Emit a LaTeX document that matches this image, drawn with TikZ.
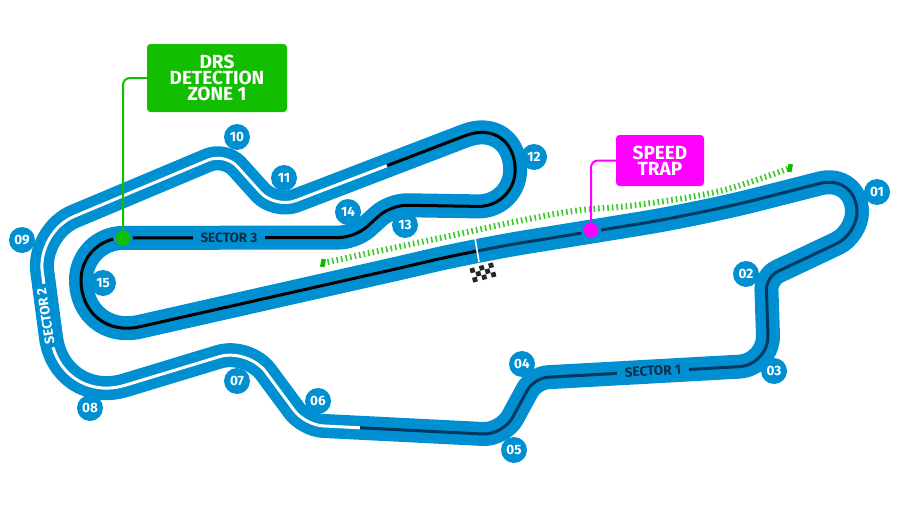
\documentclass[tikz,border=0pt]{standalone}
\usepackage{fontspec}
\setmainfont{Fira Sans}
\definecolor{trackblue}{HTML}{0090D2}
\definecolor{navyline}{HTML}{00385F}
\definecolor{labeldark}{HTML}{0B2E4F}
\definecolor{drsgreen}{HTML}{12BE00}
\definecolor{dotgreen}{HTML}{3CCB28}
\definecolor{endgreen}{HTML}{0FB800}
\definecolor{trapmag}{HTML}{FF00FF}
\newcommand\rc[1]{[rounded corners=#1pt]}
\newcommand\trackpath{
(400,268) \rc{50} -- (477,250) \rc{60} -- (700,214) \rc{38} -- (857,174) \rc{22} -- (857,234) \rc{13} -- (766,277) \rc{30} -- (769,365) \rc{14} -- (534,378) \rc{20} -- (503,435) \rc{18} -- (305,425) \rc{30} -- (248,348) \rc{68} -- (60,405) \rc{40} -- (37,232) \rc{18} -- (225,153) \rc{22} -- (275,208.6) \rc{52} -- (514,117) \rc{38} -- (516,207) \rc{16} -- (391,205) \rc{16} -- (355,237.5) \rc{42} -- (81,238) \rc{60} -- (81,340) -- (400,268)
}
\tikzset{
 turn/.style={circle,fill=trackblue,text=white,minimum size=26pt,inner sep=0pt,font=\fontsize{13.5}{13.5}\selectfont\bfseries},
 sectorlabel/.style={fill=trackblue,inner sep=0pt,minimum height=14pt,font=\fontsize{13.5}{13.5}\selectfont\bfseries},
 infobox/.style={rounded corners=3.5pt,text=white,align=center,inner sep=0pt,font=\fontsize{19}{16}\selectfont\bfseries},
 marker/.style={circle,minimum size=15pt,inner sep=0pt},
 halo/.style={circle,fill=trackblue,minimum size=20pt,inner sep=0pt},
 checker/.style={fill=black!85},
 zoneend/.style={fill=endgreen,minimum width=4.5pt,minimum height=8pt,inner sep=0pt}
}
\begin{document}
\begin{tikzpicture}[x=1pt,y=-1pt]
\useasboundingbox (0,0) rectangle (900,506);
% DRS zone hatch
\coordinate (zs) at (323,263);
\coordinate (ze) at (790,168);
\draw[dotgreen,line width=6pt,dash pattern=on 1.6pt off 3pt] plot[smooth,tension=0.6] coordinates{(zs)(440,238)(560,213)(637,205)(720,191)(ze)};
\node[zoneend,rotate=-12] (zsn) at (zs) {};
\node[zoneend,rotate=-12] (zen) at (ze) {};
% track
\draw[trackblue,line width=24pt,line join=round] \trackpath;
\begin{scope}
\clip (360,345)--(130,352)--(62,300)--(62,250)--(90,218)--(290,220)--(345,205)--(395,186)--(379,146)--(560,100)--(560,205)--(478,225)--(478,300)--(360,300)--cycle;
\draw[black,line width=3pt] \trackpath;
\end{scope}
\begin{scope}
\clip (0,506)--(360,506)--(360,345)--(130,352)--(62,300)--(62,250)--(90,218)--(290,220)--(345,205)--(395,186)--(379,146)--(0,0)--cycle;
\draw[white,line width=3pt] \trackpath;
\end{scope}
\begin{scope}
\clip (478,225)--(900,100)--(900,506)--(360,506)--(360,300)--(478,300)--cycle;
\draw[navyline,line width=3pt] \trackpath;
\end{scope}
% start line
\coordinate (sla) at (475,238);
\coordinate (slb) at (479,262);
\draw[white,line width=1.6pt] (sla) -- (slb);
% chequered flag
\begin{scope}[shift={(483,272.5)},rotate=15]
\foreach \c in {0,...,4}{\foreach \r in {0,1,2}{
 \pgfmathparse{int(mod(\c+\r,2))}
 \ifnum\pgfmathresult=0
 \fill[checker] ({(\c-2.5)*4.8},{(\r-1.5)*4.8}) rectangle +(4.8,4.8);
 \fi}}
\end{scope}
% sector labels
\node[sectorlabel,text=labeldark,minimum width=72pt] (s3) at (229,238) {SECTOR 3};
\node[sectorlabel,text=labeldark,minimum width=72pt,rotate=3] (s1) at (653,371) {SECTOR 1};
\node[sectorlabel,text=white,minimum width=64pt,rotate=99] (s2) at (45.5,316) {SECTOR 2};
% turns
\node[turn] (t01) at (877,192) {01};
\node[turn] (t02) at (746,274) {02};
\node[turn] (t03) at (774,371) {03};
\node[turn] (t04) at (522,364) {04};
\node[turn] (t05) at (514,450) {05};
\node[turn] (t06) at (318,401) {06};
\node[turn] (t07) at (237,381) {07};
\node[turn] (t08) at (90,408) {08};
\node[turn] (t09) at (22,240) {09};
\node[turn] (t10) at (237,137) {10};
\node[turn] (t11) at (284,178) {11};
\node[turn] (t12) at (534,157) {12};
\node[turn] (t13) at (405,225) {13};
\node[turn] (t14) at (348,212) {14};
\node[turn] (t15) at (103,283) {15};
% callouts
\node[infobox,fill=drsgreen,minimum width=140pt,minimum height=68pt] (drs) at (217,78) {DRS\\DETECTION\\ZONE 1};
\node[infobox,fill=trapmag,minimum width=88pt,minimum height=51pt] (trap) at (660,160.5) {SPEED\\TRAP};
\node[halo] (drsh) at (123,238) {};
\node[halo] (traph) at (591,230) {};
\node[marker,fill=drsgreen] (drsdot) at (123,238) {};
\node[marker,fill=trapmag] (trapdot) at (591,230) {};
\draw[drsgreen,line width=2pt,rounded corners=7pt] (drs.west) -| (drsdot);
\draw[trapmag,line width=2pt,rounded corners=7pt] (trap.west) -| (trapdot);
\end{tikzpicture}
\end{document}
